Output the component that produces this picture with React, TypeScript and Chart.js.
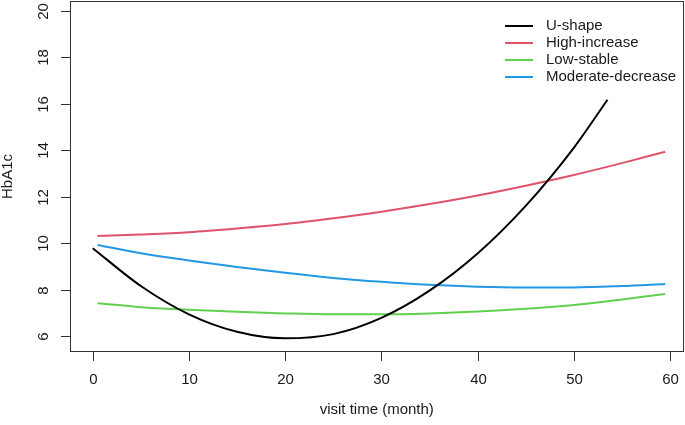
import React, { useEffect, useRef } from "react";
import { Chart, registerables } from "chart.js";

Chart.register(...registerables);

const seriesNames = ["U-shape", "High-increase", "Low-stable", "Moderate-decrease"];
const seriesColors = ["#000000", "#DF536B", "#61D04F", "#2297E6"];

const timeU = [0, 5, 10, 15, 20, 25, 30, 35, 40, 45, 50, 53.5];
const uShape = [9.78, 8.15, 6.93, 6.18, 5.9, 6.08, 6.78, 7.95, 9.55, 11.6, 14.1, 16.17];

const timeOther = [0.5, 5, 10, 15, 20, 25, 30, 35, 40, 45, 50, 55, 59.5];
const highIncrease = [10.3, 10.37, 10.47, 10.63, 10.82, 11.07, 11.35, 11.68, 12.05, 12.47, 12.93, 13.44, 13.93];
const lowStable = [7.41, 7.24, 7.13, 7.04, 6.97, 6.93, 6.93, 6.97, 7.05, 7.17, 7.33, 7.57, 7.81];
const moderateDecrease = [9.92, 9.56, 9.25, 8.97, 8.72, 8.5, 8.33, 8.2, 8.12, 8.09, 8.09, 8.15, 8.24];

const xTicks = [0, 10, 20, 30, 40, 50, 60];
const yTicks = [6, 8, 10, 12, 14, 16, 18, 20];

const xTitle = "visit time (month)";
const yTitle = "HbA1c";

const FONT = '15px "Liberation Sans", Arial, sans-serif';
const INK = "#1a1a1a";

const axesPlugin = {
  id: "rAxes",
  afterDraw(chart: any) {
    const ctx = chart.ctx as CanvasRenderingContext2D;
    const area = chart.chartArea;
    const xs = chart.scales.x;
    const ys = chart.scales.y;
    ctx.save();
    ctx.strokeStyle = "#333";
    ctx.lineWidth = 1;
    ctx.strokeRect(Math.round(area.left) + 0.5, Math.round(area.top) + 0.5,
      Math.round(area.right - area.left) - 1, Math.round(area.bottom - area.top) - 1);

    ctx.fillStyle = INK;
    ctx.font = FONT;
    // x ticks
    ctx.textAlign = "center";
    ctx.textBaseline = "middle";
    const by = Math.round(area.bottom);
    for (const t of xTicks) {
      const px = Math.round(xs.getPixelForValue(t)) + 0.5;
      ctx.beginPath();
      ctx.moveTo(px, by);
      ctx.lineTo(px, by + 9);
      ctx.stroke();
      ctx.fillText(String(t), px, 380);
    }
    // y ticks
    const lx = Math.round(area.left);
    for (const v of yTicks) {
      const py = Math.round(ys.getPixelForValue(v)) + 0.5;
      ctx.beginPath();
      ctx.moveTo(lx - 9, py);
      ctx.lineTo(lx, py);
      ctx.stroke();
      ctx.save();
      ctx.translate(43.5, py);
      ctx.rotate(-Math.PI / 2);
      ctx.fillText(String(v), 0, 0);
      ctx.restore();
    }
    // titles
    ctx.fillText(xTitle, (area.left + area.right) / 2, 410);
    ctx.save();
    ctx.translate(8, (area.top + area.bottom) / 2);
    ctx.rotate(-Math.PI / 2);
    ctx.fillText(yTitle, 0, 0);
    ctx.restore();

    // legend
    ctx.textAlign = "left";
    const rows = [26, 43, 60, 77];
    chart.data.datasets.forEach((ds: any, i: number) => {
      const y = rows[i];
      ctx.strokeStyle = ds.borderColor;
      ctx.lineWidth = 2;
      ctx.beginPath();
      ctx.moveTo(505, y);
      ctx.lineTo(533, y);
      ctx.stroke();
      ctx.fillStyle = INK;
      ctx.fillText(ds.label, 546, y);
    });
    ctx.restore();
  },
};

export default function App() {
  const ref = useRef<HTMLCanvasElement>(null);
  useEffect(() => {
    if (!ref.current) return;
    const mk = (xs: number[], ys: number[]) => xs.map((x, i) => ({ x, y: ys[i] }));
    const dataSets = [
      mk(timeU, uShape),
      mk(timeOther, highIncrease),
      mk(timeOther, lowStable),
      mk(timeOther, moderateDecrease),
    ];
    const chart = new Chart(ref.current, {
      type: "line",
      data: {
        datasets: dataSets.map((d, i) => ({
          label: seriesNames[i],
          data: d,
          borderColor: seriesColors[i],
          backgroundColor: seriesColors[i],
          borderWidth: 2,
          pointRadius: 0,
          fill: false,
          cubicInterpolationMode: "monotone" as const,
        })),
      },
      options: {
        responsive: false,
        animation: false,
        layout: { padding: { left: 70, top: 1, right: 1.5, bottom: 73 } },
        plugins: { legend: { display: false }, tooltip: { enabled: false } },
        scales: {
          x: { type: "linear", min: -2.36, max: 61.4, display: false },
          y: { type: "linear", min: 5.31, max: 20.42, display: false },
        },
      },
      plugins: [axesPlugin],
    });
    return () => chart.destroy();
  }, []);
  return (
    <div style={{ position: "fixed", left: 0, top: 0, width: 685, height: 425, background: "#fff" }}>
      <canvas ref={ref} width={685} height={425} style={{ display: "block" }} />
    </div>
  );
}
